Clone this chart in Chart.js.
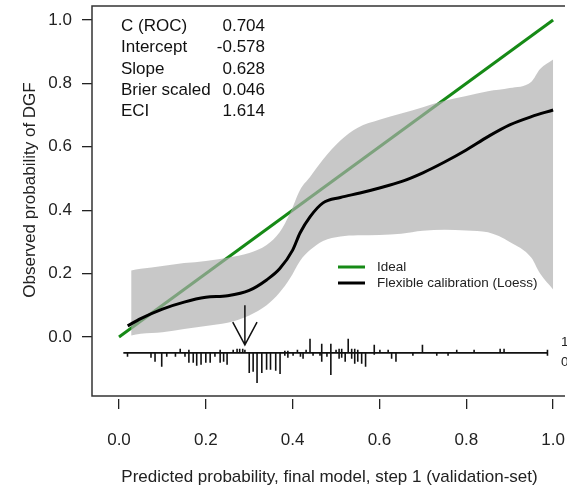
<!DOCTYPE html>
<html>
<head>
<meta charset="utf-8">
<script src="https://cdn.jsdelivr.net/npm/chart.js@4.4.1/dist/chart.umd.min.js"></script>
<style>
  html, body { margin: 0; padding: 0; background: #fff; overflow: hidden; }
  #wrap { width: 567px; height: 491px; position: relative; }
</style>
</head>
<body>
<div id="wrap"><canvas id="cal"></canvas></div>
<script>
// Datos
const xTicks = [0, 0.2, 0.4, 0.6, 0.8, 1.0];
const yTicks = [0, 0.2, 0.4, 0.6, 0.8, 1.0];

const idealX = [0, 1];
const idealY = [0, 1];

// curva loess
const loessX = [0.02, 0.05, 0.1, 0.15, 0.2, 0.25, 0.3, 0.34, 0.37, 0.4, 0.417, 0.44, 0.47, 0.51, 0.555, 0.6, 0.65, 0.7, 0.75, 0.8, 0.85, 0.9, 0.95, 1.0];
const loessY = [0.035, 0.058, 0.088, 0.11, 0.125, 0.13, 0.147, 0.18, 0.215, 0.274, 0.328, 0.379, 0.423, 0.44, 0.454, 0.47, 0.49, 0.518, 0.552, 0.59, 0.632, 0.669, 0.695, 0.716];

// banda de confianza
const bandX  = [0.028, 0.05, 0.1, 0.15, 0.2, 0.25, 0.3, 0.34, 0.37, 0.394, 0.417, 0.44, 0.47, 0.51, 0.55, 0.6, 0.65, 0.7, 0.75, 0.8, 0.85, 0.9, 0.95, 0.97, 1.0];
const bandHi = [0.21, 0.215, 0.224, 0.233, 0.24, 0.25, 0.265, 0.29, 0.33, 0.39, 0.464, 0.505, 0.56, 0.62, 0.66, 0.685, 0.705, 0.725, 0.745, 0.76, 0.775, 0.785, 0.805, 0.845, 0.875];
const bandLo = [0.005, 0.01, 0.015, 0.025, 0.035, 0.045, 0.068, 0.1, 0.14, 0.185, 0.24, 0.274, 0.303, 0.317, 0.321, 0.322, 0.326, 0.335, 0.338, 0.336, 0.33, 0.3, 0.25, 0.2, 0.15];

// rug: posiciones y frecuencias (eventos arriba, no eventos abajo)
const rugX = [0.0196, 0.0737, 0.083, 0.0984, 0.110, 0.130, 0.141, 0.152, 0.161, 0.171, 0.179, 0.189, 0.200, 0.210, 0.221,
  0.233, 0.241, 0.249, 0.263, 0.272, 0.278, 0.285, 0.290, 0.300, 0.309, 0.318, 0.329, 0.340, 0.349, 0.361, 0.371,
  0.382, 0.389, 0.401, 0.411, 0.418, 0.424, 0.431, 0.440, 0.447, 0.463, 0.467, 0.479, 0.488, 0.500, 0.507, 0.513,
  0.521, 0.528, 0.536, 0.543, 0.550, 0.559, 0.568, 0.588, 0.601, 0.620, 0.628, 0.638, 0.677, 0.699, 0.732, 0.758,
  0.778, 0.818, 0.878, 0.887, 0.987];
const rugEvents = [0, 0, 0, 0, 0, 0, 4, 0, 3, 0, 0, 0, 0, 0, 0,
  3, 0, 0, 3, 4, 4, 4, 3, 0, 0, 0, 0, 0, 0, 0, 0,
  2, 2, 0, 3, 0, 0, 3, 14, 0, 0, 9, 0, 9, 3, 4, 4,
  0, 14, 4, 4, 3, 0, 0, 8, 3, 3, 0, 0, 0, 8, 0, 0,
  3, 3, 4, 4, 3];
const rugNonEvents = [4, 5, 9, 14, 4, 4, 0, 4, 10, 10, 13, 12, 10, 10, 4,
  10, 9, 12, 0, 0, 0, 0, 0, 20, 19, 30, 20, 17, 17, 18, 21,
  3, 5, 3, 0, 4, 6, 0, 0, 3, 3, 9, 4, 22, 0, 6, 5,
  9, 0, 6, 11, 9, 11, 14, 2, 0, 0, 6, 9, 3, 0, 3, 3,
  0, 0, 0, 0, 3];
const rugRange = [0.01, 0.987];
const rugBase = -0.05;
const RUG_UNIT = 0.00316; // largo por unidad de frecuencia

const arrowX = 0.29;

const statLabels = ['C (ROC)', 'Intercept', 'Slope', 'Brier scaled', 'ECI'];
const statValues = ['0.704', '-0.578', '0.628', '0.046', '1.614'];

const legendLabels = ['Ideal', 'Flexible calibration (Loess)'];
const legendColors = ['#168a16', '#000000'];

const FONT = '"Liberation Sans", Arial, sans-serif';
const INK = '#222';

// Helpers
const pts = (xs, ys) => xs.map((x, i) => ({ x, y: ys[i] }));

function rugPoints() {
    const out = [];
    rugX.forEach((x, i) => {
        if (rugEvents[i] > 0) {
            out.push({ x, y: rugBase }, { x, y: rugBase + rugEvents[i] * RUG_UNIT }, { x, y: null });
        }
        if (rugNonEvents[i] > 0) {
            out.push({ x, y: rugBase }, { x, y: rugBase - rugNonEvents[i] * RUG_UNIT }, { x, y: null });
        }
    });
    return out;
}

function arrowPoints() {
    return [
        { x: arrowX, y: 0.1 }, { x: arrowX, y: -0.025 }, { x: arrowX, y: null },
        { x: arrowX - 0.028, y: 0.047 }, { x: arrowX, y: -0.025 }, { x: arrowX + 0.028, y: 0.047 }
    ];
}

// sin relleno extra por etiquetas que sobresalen
function noPad(s) {
    s.paddingLeft = 0; s.paddingRight = 0; s.paddingTop = 0; s.paddingBottom = 0;
}

// Decoraciones: caja, textos, leyenda
const decor = {
    id: 'decor',
    afterDraw(chart) {
        const { ctx, chartArea: a } = chart;
        ctx.save();
        // caja del gráfico
        ctx.strokeStyle = '#333';
        ctx.lineWidth = 1.5;
        ctx.beginPath();
        ctx.moveTo(a.right - 2, a.top);
        ctx.lineTo(a.left, a.top);
        ctx.lineTo(a.left, a.bottom - 3);
        ctx.lineTo(a.right - 2, a.bottom - 3);
        ctx.stroke();

        // estadísticas
        ctx.fillStyle = '#111';
        ctx.font = `17px ${FONT}`;
        ctx.textBaseline = 'middle';
        statLabels.forEach((s, i) => {
            const y = 26.5 + i * 21.3;
            ctx.textAlign = 'left';
            ctx.fillText(s, 121, y);
            ctx.textAlign = 'right';
            ctx.fillText(statValues[i], 265, y);
        });

        // leyenda
        ctx.font = `13.5px ${FONT}`;
        ctx.textAlign = 'left';
        legendLabels.forEach((s, i) => {
            const y = 267 + i * 16;
            ctx.strokeStyle = legendColors[i];
            ctx.lineWidth = 3;
            ctx.beginPath();
            ctx.moveTo(338, y);
            ctx.lineTo(365, y);
            ctx.stroke();
            ctx.fillStyle = '#222';
            ctx.fillText(s, 377, y);
        });

        // etiquetas del rug
        ctx.fillText('1', 561, 342);
        ctx.fillText('0', 561, 362);

        // título eje y
        ctx.font = `17px ${FONT}`;
        ctx.fillStyle = INK;
        ctx.translate(30, 190);
        ctx.rotate(-Math.PI / 2);
        ctx.textAlign = 'center';
        ctx.fillText('Observed probability of DGF', 0, 0);
        ctx.restore();
    }
};

new Chart(document.getElementById('cal'), {
    type: 'line',
    data: {
        datasets: [
            { label: 'Loess', data: pts(loessX, loessY), borderColor: '#000', borderWidth: 3,
              cubicInterpolationMode: 'monotone', pointRadius: 0, fill: false, order: 0 },
            { label: 'rug', data: rugPoints(), borderColor: '#111', borderWidth: 1.6,
              pointRadius: 0, spanGaps: false, fill: false, order: 0 },
            { label: 'rug axis', data: [{ x: rugRange[0], y: rugBase }, { x: rugRange[1], y: rugBase }],
              borderColor: '#111', borderWidth: 1.6, pointRadius: 0, fill: false, order: 0 },
            { label: 'arrow', data: arrowPoints(), borderColor: '#111', borderWidth: 1.5,
              pointRadius: 0, spanGaps: false, fill: false, order: 0 },
            { label: 'band lo', data: pts(bandX, bandLo), borderWidth: 0, borderColor: 'rgba(0,0,0,0)',
              cubicInterpolationMode: 'monotone', pointRadius: 0, fill: false, order: 1 },
            { label: 'band hi', data: pts(bandX, bandHi), borderWidth: 0, borderColor: 'rgba(0,0,0,0)',
              backgroundColor: 'rgba(174,174,174,0.68)', cubicInterpolationMode: 'monotone',
              pointRadius: 0, fill: 4, order: 1 },
            { label: 'Ideal', data: pts(idealX, idealY), borderColor: legendColors[0], borderWidth: 3,
              pointRadius: 0, fill: false, order: 2 }
        ]
    },
    options: {
        responsive: true,
        maintainAspectRatio: false,
        animation: false,
        layout: { padding: { top: 6, left: 0, right: 0, bottom: 0 } },
        plugins: { legend: { display: false }, tooltip: { enabled: false } },
        scales: {
            x: {
                type: 'linear',
                min: -0.0622,
                max: 1.032,
                afterBuildTicks: s => { s.ticks = xTicks.map(v => ({ value: v })); },
                afterFit: s => { s.height = 92; noPad(s); },
                border: { display: false },
                grid: { drawOnChartArea: false, drawTicks: true, tickLength: 10, color: INK, lineWidth: 1.3 },
                ticks: { padding: 21, color: INK, font: { family: FONT, size: 17 }, callback: v => v.toFixed(1) },
                title: { display: true, text: 'Predicted probability, final model, step 1 (validation-set)',
                         color: INK, font: { family: FONT, size: 17 }, padding: { top: 0, bottom: 3 } }
            },
            y: {
                type: 'linear',
                min: -0.1956,
                max: 1.044,
                afterBuildTicks: s => { s.ticks = yTicks.map(v => ({ value: v })); },
                afterFit: s => { s.width = 92; noPad(s); },
                border: { display: false },
                grid: { drawOnChartArea: false, drawTicks: true, tickLength: 10, color: INK, lineWidth: 1.3 },
                ticks: { padding: 10, color: INK, font: { family: FONT, size: 17 }, callback: v => v.toFixed(1) }
            }
        }
    },
    plugins: [decor]
});
</script>
</body>
</html>
